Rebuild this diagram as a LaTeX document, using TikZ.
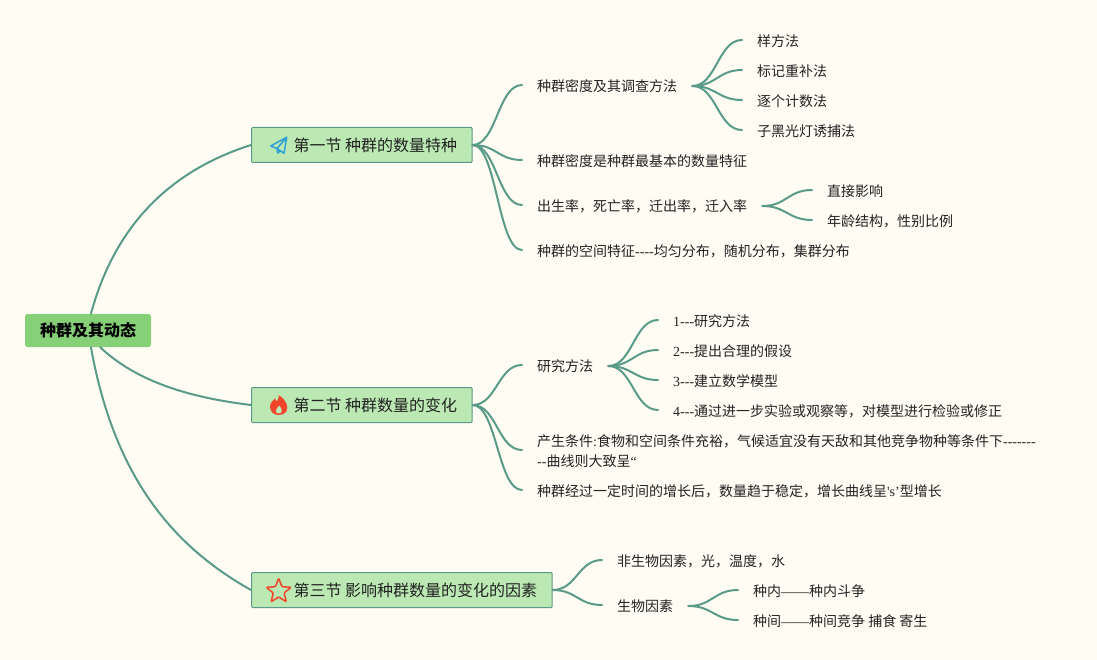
\documentclass[tikz,border=0pt]{standalone}
\usepackage{fontspec}
\usepackage{tikz}
\usetikzlibrary{shapes.geometric}
\setmainfont[Ligatures=NoCommon]{Noto Sans CJK SC}
\newfontfamily\latinfont{Liberation Serif}
\newcommand{\lat}[1]{{\latinfont #1}}
\definecolor{pagebg}{HTML}{FFFCF3}
\definecolor{branchcol}{HTML}{5A9A88}
\definecolor{rootcol}{HTML}{86D077}
\definecolor{seccol}{HTML}{BCE9B3}
\definecolor{inkcol}{HTML}{222222}
\definecolor{flamecol}{HTML}{F0452A}
\definecolor{planecol}{HTML}{2E9FD6}
\tikzset{
  rootbox/.style={rectangle, rounded corners=2.5pt, fill=rootcol, inner xsep=15pt, minimum height=33pt, inner ysep=0pt, font=\fontsize{16}{20}\selectfont\bfseries, text=black},
  secbox/.style={rectangle, rounded corners=1pt, fill=seccol, draw=branchcol, line width=1pt, anchor=west, inner xsep=15pt, inner ysep=0pt, minimum height=35pt, font=\fontsize{16}{20}\selectfont, text=inkcol, execute at begin node=\hspace*{27pt}},
  leaf/.style={rectangle, anchor=west, inner xsep=15pt, inner ysep=2pt, align=left, font=\fontsize{14}{20}\selectfont, text=inkcol},
  branch/.style={draw=branchcol, line width=2pt, line cap=round}
}
\begin{document}
\begin{tikzpicture}[x=1pt,y=-1pt]
        \useasboundingbox (0,0) rectangle (1097,660);
        \fill[pagebg] (0,0) rectangle (1097,660);

        % main branches
        \node[rootbox] (root) at (88,330.5) {种群及其动态};
        \node[secbox] (sec1) at (251,145) {第一节 种群的数量特种};
        \node[secbox] (sec2) at (251,405) {第二节 种群数量的变化};
        \node[secbox] (sec3) at (251,590) {第三节 影响种群数量的变化的因素};

        % first section
        \node[leaf] (dens) at (522,86) {种群密度及其调查方法};
        \node[leaf] (basic) at (522,161) {种群密度是种群最基本的数量特征};
        \node[leaf] (rate) at (522,206) {出生率，死亡率，迁出率，迁入率};
        \node[leaf] (space) at (522,251) {种群的空间特征\lat{----}均匀分布，随机分布，集群分布};
        \node[leaf] (dens1) at (742,41) {样方法};
        \node[leaf] (dens2) at (742,71) {标记重补法};
        \node[leaf] (dens3) at (742,101) {逐个计数法};
        \node[leaf] (dens4) at (742,131) {子黑光灯诱捕法};
        \node[leaf] (rate1) at (812,191) {直接影响};
        \node[leaf] (rate2) at (812,221) {年龄结构，性别比例};

        % second section
        \node[leaf] (study) at (522,366) {研究方法};
        \node[leaf] (cond) at (522,451) {产生条件\lat{:}食物和空间条件充裕，气候适宜没有天敌和其他竞争物种等条件下\lat{-------}\\\lat{--}曲线则大致呈\lat{“}};
        \node[leaf] (grow) at (522,491) {种群经过一定时间的增长后，数量趋于稳定，增长曲线呈\lat{'s’}型增长};
        \node[leaf] (study1) at (658,321) {\lat{1---}研究方法};
        \node[leaf] (study2) at (658,351) {\lat{2---}提出合理的假设};
        \node[leaf] (study3) at (658,381) {\lat{3---}建立数学模型};
        \node[leaf] (study4) at (658,411) {\lat{4---}通过进一步实验或观察等，对模型进行检验或修正};

        % third section
        \node[leaf] (abio) at (602,561) {非生物因素，光，温度，水};
        \node[leaf] (bio) at (602,606) {生物因素};
        \node[leaf] (bio1) at (738,591) {种内\lat{——}种内斗争};
        \node[leaf] (bio2) at (738,621) {种间\lat{——}种间竞争 捕食 寄生};

        \draw[branch] (root.80) .. controls (112,236) and (160,174) .. (sec1.west);
        \draw[branch] (root.-54) .. controls (135,380) and (185,397) .. (sec2.west);
        \draw[branch] (root.-80) .. controls (113,470) and (167,543) .. (sec3.west);

        \foreach \from/\to in {sec1/dens, sec1/basic, sec1/rate, sec1/space,
                               dens/dens1, dens/dens2, dens/dens3, dens/dens4,
                               rate/rate1, rate/rate2,
                               sec2/study, sec2/cond, sec2/grow,
                               study/study1, study/study2, study/study3, study/study4,
                               sec3/abio, sec3/bio,
                               bio/bio1, bio/bio2}
            \draw[branch] (\from.east) .. controls +(24,0) and +(-24,0) .. ([yshift=1pt]\to.west);

        % icons
        \draw[draw=planecol, line width=1.5pt, line join=round]
            (286.7,137.3) -- (270.7,146) -- (277,148.6) -- (284,153.2) -- cycle
            (286.7,137.3) -- (277,148.6) -- (277.6,153) -- (280.6,151);
        \fill[flamecol] (278.5,415) .. controls (273,415) and (270,411) .. (270,406.5)
            .. controls (270,402) and (274,400.5) .. (275,398) .. controls (275.5,400) and (276,401) .. (277,401.5)
            .. controls (278.5,399) and (279,397) .. (278.5,395) .. controls (282,397) and (287.3,402) .. (287.3,407.5)
            .. controls (287.3,412) and (284,415) .. (278.5,415) -- cycle;
        \fill[seccol] (278.8,413.5) .. controls (276.5,413.5) and (275.6,412) .. (275.8,410.5)
            .. controls (276.2,408.5) and (278,408) .. (279,405.5) .. controls (280.8,407.5) and (282,409) .. (281.8,410.8)
            .. controls (281.6,412.5) and (280.6,413.5) .. (278.8,413.5) -- cycle;
        \node[star, star points=5, star point ratio=2.3, draw=flamecol, line width=1.5pt, rounded corners=1pt, inner sep=0pt, minimum size=26pt] (staricon) at (278.7,591.3) {};
\end{tikzpicture}
\end{document}
